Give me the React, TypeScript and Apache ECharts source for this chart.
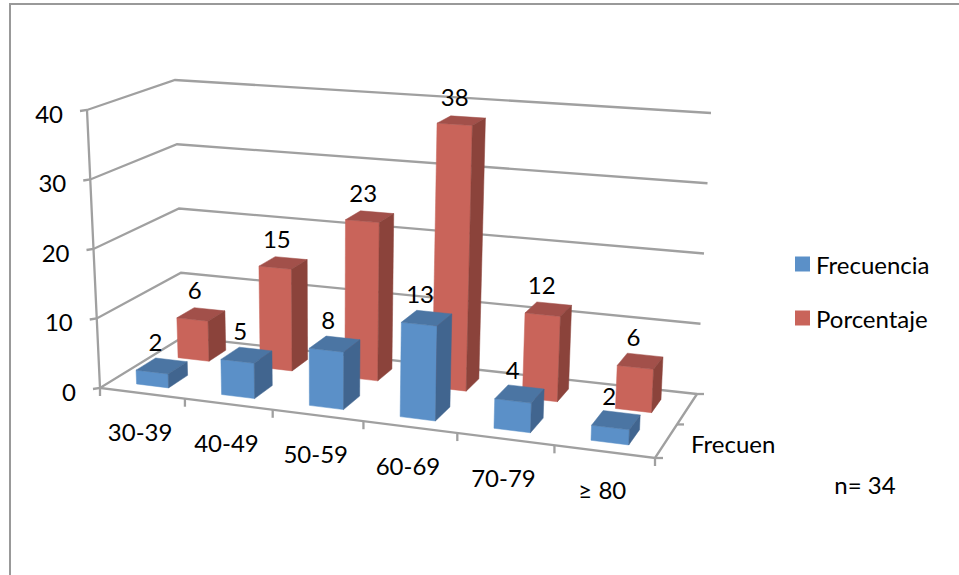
import React, { useEffect, useRef } from "react";
import * as echarts from "echarts";

const categories = ["30-39", "40-49", "50-59", "60-69", "70-79", "≥ 80"];
const frecuencia = [2, 5, 8, 13, 4, 2];
const porcentaje = [6, 15, 23, 38, 12, 6];
const valueTicks = [0, 10, 20, 30, 40];
const seriesNames = ["Frecuencia", "Porcentaje"];
const depthLabel = "Frecuen";
const note = "n= 34";

const FONT = "Lato";
const FS = 24;
const LINE = "#a0a0a0";

type P = [number, number];
function homography(p0: P, p1: P, p2: P, p3: P) {
  const [x0, y0] = p0, [x1, y1] = p1, [x2, y2] = p2, [x3, y3] = p3;
  const dx1 = x1 - x2, dx2 = x3 - x2, sx = x0 - x1 + x2 - x3;
  const dy1 = y1 - y2, dy2 = y3 - y2, sy = y0 - y1 + y2 - y3;
  const den = dx1 * dy2 - dx2 * dy1;
  const g = (sx * dy2 - dx2 * sy) / den;
  const h = (dx1 * sy - sx * dy1) / den;
  const a = x1 - x0 + g * x1, b = x3 - x0 + h * x3;
  const d = y1 - y0 + g * y1, e = y3 - y0 + h * y3;
  return (u: number, v: number): P => {
    const w = g * u + h * v + 1;
    return [(a * u + b * v + x0) / w, (d * u + e * v + y0) / w];
  };
}
const floorMap = homography([100, 388], [655, 458], [697, 394], [183, 337]);
const ceilMap = homography([87, 110], [668, 150], [711, 113], [175, 80]);
// u: 0..1 along categories, v: 0..1 front to back, w: 0..1 value height
const project = (u0: number, v: number, w: number): P => {
  const u = u0 + 0.03 * u0 * (1 - u0);
  const a = floorMap(u, v), b = ceilMap(u, v);
  return [a[0] + (b[0] - a[0]) * w, a[1] + (b[1] - a[1]) * w];
};

// converts a data point through the hidden cartesian axes into normalized scene coords
function norm(params: any, api: any, cat: number, val: number) {
  const cs = params.coordSys;
  const c = api.coord([cat, val]);
  return { u: (c[0] - cs.x) / cs.width, w: (cs.y + cs.height - c[1]) / cs.height };
}

const poly = (points: P[], fill: string) => ({
  type: "polygon",
  shape: { points },
  style: { fill, stroke: fill, lineWidth: 0.5 },
});
const seg = (points: P[]) => ({
  type: "polyline",
  shape: { points },
  style: { fill: "none", stroke: LINE, lineWidth: 2.3 },
});
const txt = (x: number, y: number, text: string, align = "center") => ({
  type: "text",
  x,
  y,
  style: { text, align, verticalAlign: "middle", fontSize: FS, fontFamily: FONT, fill: "#000" },
});

function barRenderer(v0: number, v1: number, colors: string[]) {
  return (params: any, api: any) => {
    const idx = api.value(0);
    const { u, w } = norm(params, api, idx, api.value(1));
    const bw = 1 / categories.length;
    const u0 = u - bw * 0.2, u1 = u + bw * 0.18;
    const A = project(u0, v0, 0), B = project(u1, v0, 0), C = project(u1, v1, 0);
    const a = project(u0, v0, w), b = project(u1, v0, w), c = project(u1, v1, w), d = project(u0, v1, w);
    return {
      type: "group",
      children: [poly([A, B, b, a], colors[0]), poly([a, b, c, d], colors[1]), poly([B, C, c, b], colors[2])],
    };
  };
}
function labelRenderer(v0: number, v1: number) {
  return (params: any, api: any) => {
    const { u, w } = norm(params, api, api.value(0), api.value(1));
    const bw = 1 / categories.length;
    const p = project(u - bw * 0.05, (v0 + v1) / 2, w);
    return txt(p[0] - 3, p[1] - 24, String(api.value(1)));
  };
}

const BLUE = ["#5b90c8", "#4b75a3", "#41658f"];
const RED = ["#c9645a", "#a2504a", "#8b433b"];
const V_BLUE: P = [0.13, 0.36];
const V_RED: P = [0.63, 0.85];

const indexed = (vals: number[]) => vals.map((v, i) => [i, v]);

export default function App() {
  const ref = useRef<HTMLDivElement>(null);
  useEffect(() => {
    const chart = echarts.init(ref.current!, undefined, { renderer: "svg" });
    chart.setOption({
      animation: false,
      backgroundColor: "#fff",
      grid: { left: 100, top: 100, width: 600, height: 300, show: false },
      xAxis: { type: "category", data: categories, show: false },
      yAxis: { type: "value", min: 0, max: 40, interval: 10, show: false },
      legend: {
        orient: "vertical",
        left: 795,
        top: 252,
        data: seriesNames,
        icon: "rect",
        itemWidth: 15,
        itemHeight: 15,
        itemGap: 30,
        textStyle: { fontFamily: FONT, fontSize: FS, color: "#000", padding: [0, 0, 0, 1] },
        padding: 0,
        selectedMode: false,
      },
      graphic: [
        {
          type: "rect",
          shape: { x: 10, y: 4, width: 1000, height: 700 },
          style: { fill: "none", stroke: "#999", lineWidth: 2 },
          z: 0,
        },
        {
          type: "text",
          x: 691,
          y: 443,
          style: { text: depthLabel, align: "left", verticalAlign: "middle", fontSize: FS, fontFamily: FONT, fill: "#000" },
        },
        {
          type: "text",
          x: 865,
          y: 484,
          style: { text: note, align: "center", verticalAlign: "middle", fontSize: FS, fontFamily: FONT, fill: "#000" },
        },
      ],
      series: [
        {
          type: "custom",
          name: "walls",
          z: 1,
          data: valueTicks.map((v) => [0, v]),
          renderItem: (params: any, api: any) => {
            const { w } = norm(params, api, 0, api.value(1));
            const f = project(0, 0, w), bl = project(0, 1, w), br = project(1, 1, w);
            return {
              type: "group",
              children: [
                seg([[f[0] - 7, f[1] + 1], f, bl, br]),
                txt(f[0] - 24, f[1] + 3, String(api.value(1)), "right"),
              ],
            };
          },
        },
        {
          type: "custom",
          name: "frame",
          z: 1,
          data: [[0, 0]],
          renderItem: () => {
            const top = project(0, 0, 1), bot = project(0, 0, 0);
            const fr = project(1, 0, 0), br = project(1, 1, 0), mid = project(1, 0.5, 0);
            return {
              type: "group",
              children: [
                seg([top, bot, fr, br]),
                seg([[br[0], br[1]], [br[0] + 7, br[1]]]),
                seg([[mid[0], mid[1]], [mid[0] + 7, mid[1]]]),
                seg([[fr[0], fr[1]], [fr[0] + 8, fr[1]]]),
              ],
            };
          },
        },
        {
          type: "custom",
          name: "axisCategories",
          z: 1,
          data: categories.map((_, i) => [i, 0]),
          renderItem: (params: any, api: any) => {
            const i = api.value(0);
            const { u } = norm(params, api, i, 0);
            const bw = 1 / categories.length;
            const l = project(u - bw / 2, 0, 0), r = project(u + bw / 2, 0, 0), m = project(u, 0, 0);
            const tick = (p: P) => seg([p, [p[0], p[1] + 8]]);
            const children: any[] = [tick(l), txt(m[0] - 2, m[1] + 38, categories[i])];
            if (i === categories.length - 1) children.push(tick(r));
            return { type: "group", children };
          },
        },
        {
          type: "custom",
          name: "labelsFrecuencia",
          z: 2,
          data: indexed(frecuencia),
          renderItem: labelRenderer(V_BLUE[0], V_BLUE[1]),
        },
        {
          type: "custom",
          name: seriesNames[1],
          z: 3,
          itemStyle: { color: RED[0] },
          data: indexed(porcentaje),
          renderItem: barRenderer(V_RED[0], V_RED[1], RED),
        },
        {
          type: "custom",
          name: seriesNames[0],
          z: 4,
          itemStyle: { color: BLUE[0] },
          data: indexed(frecuencia),
          renderItem: barRenderer(V_BLUE[0], V_BLUE[1], BLUE),
        },
        {
          type: "custom",
          name: "labelsPorcentaje",
          z: 5,
          data: indexed(porcentaje),
          renderItem: labelRenderer(V_RED[0], V_RED[1]),
        },
      ],
    });
    return () => chart.dispose();
  }, []);
  return <div ref={ref} style={{ position: "fixed", left: 0, top: 0, width: 959, height: 575 }} />;
}
